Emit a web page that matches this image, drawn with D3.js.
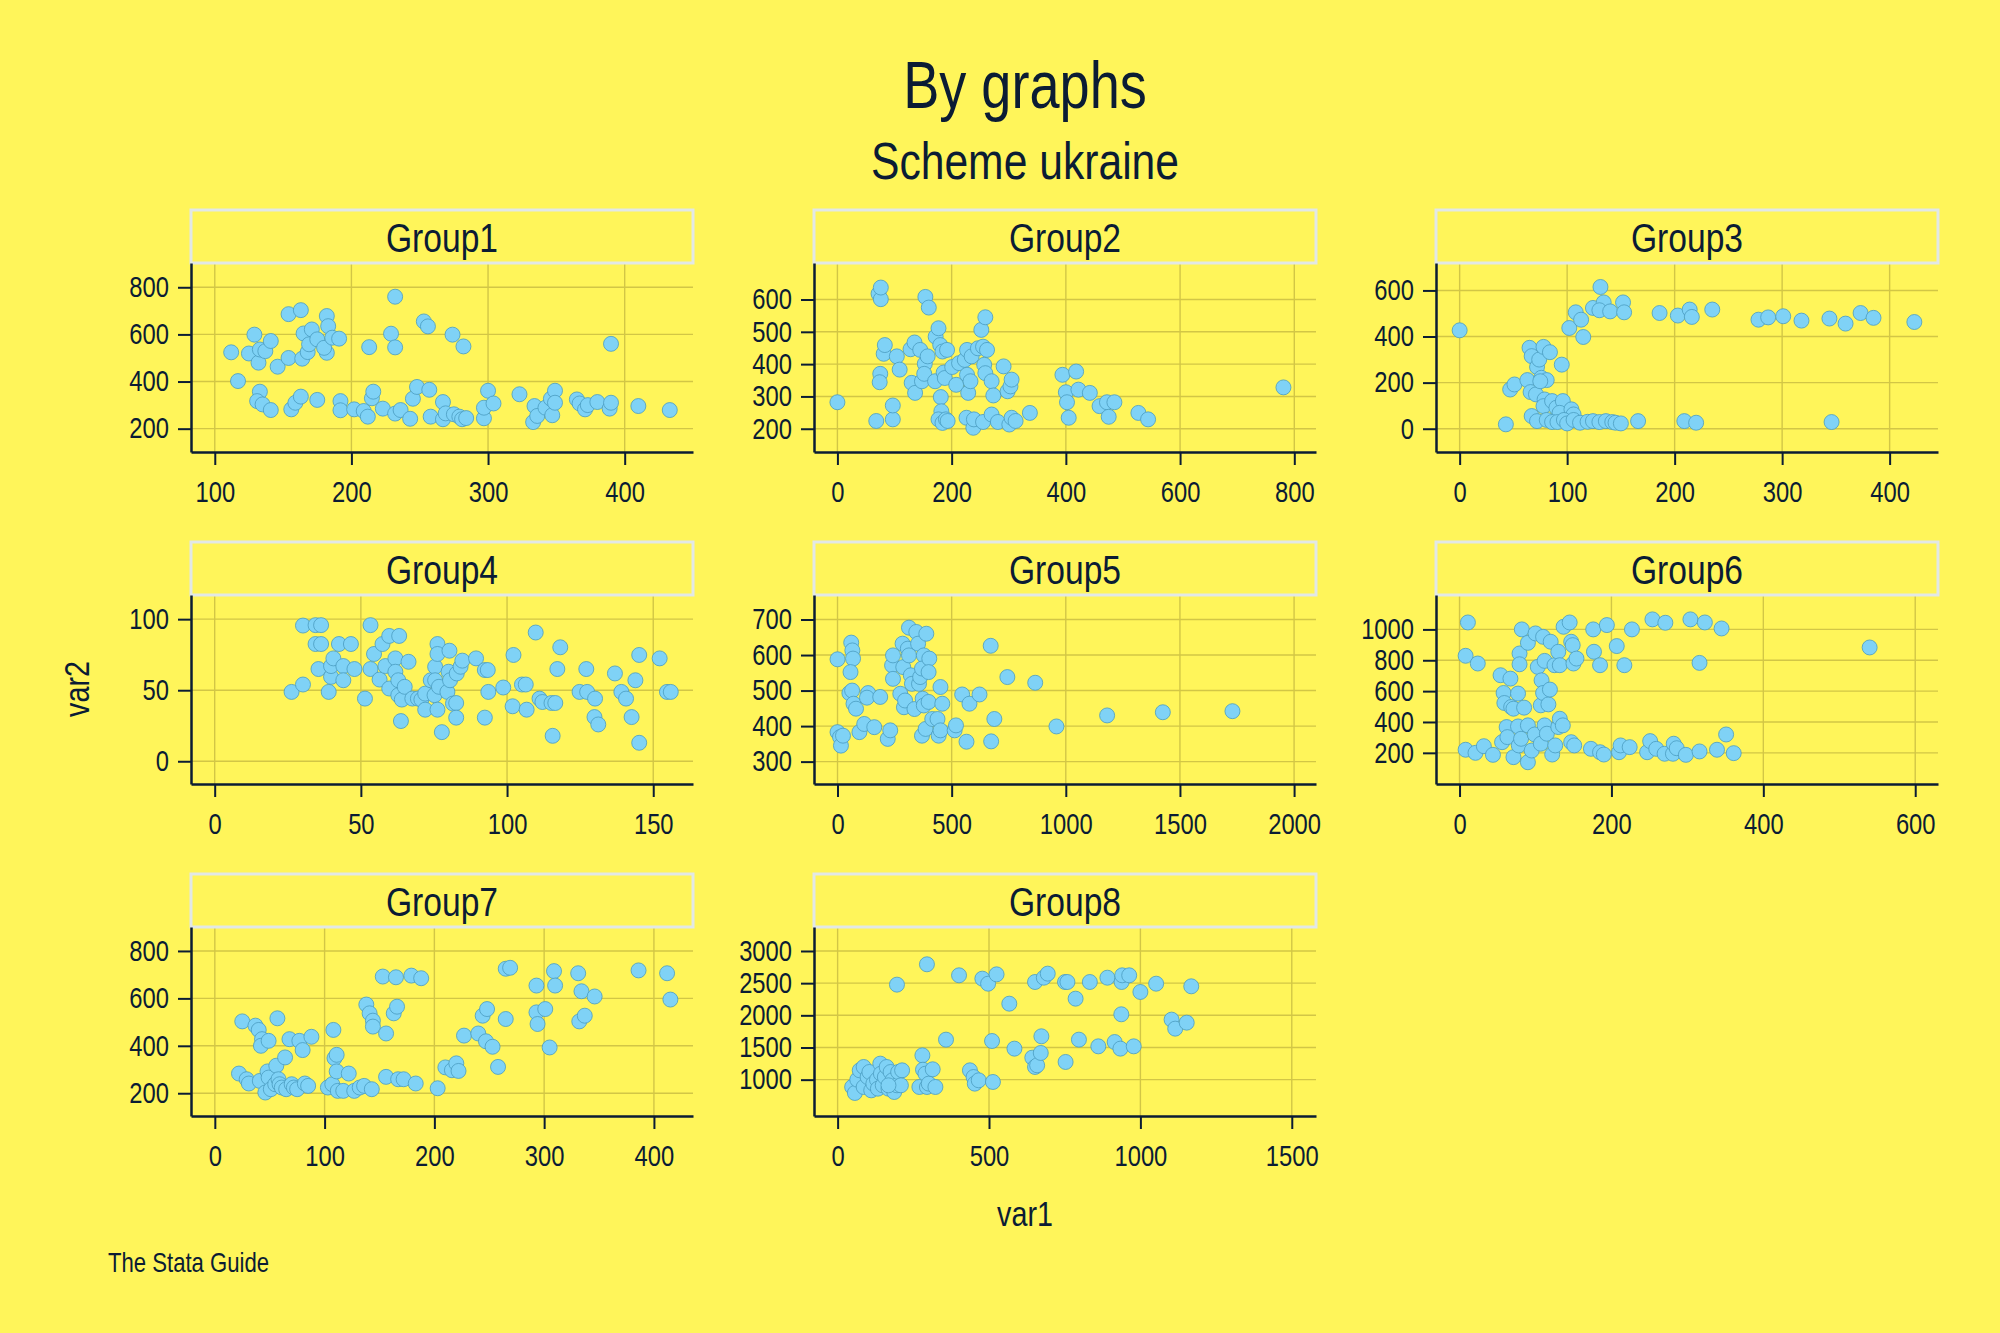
<!DOCTYPE html>
<html>
<head>
<meta charset="utf-8">
<script src="https://cdn.jsdelivr.net/npm/d3@7"></script>
<style>
    body { margin: 0; background: #fff55a; }
    svg text { font-family: "Liberation Sans", Arial, sans-serif; fill: #0b1c34; }
</style>
</head>
<body>
<svg id="chart" width="2000" height="1333"></svg>
<script>
var group_names = ["Group1", "Group2", "Group3", "Group4", "Group5", "Group6", "Group7", "Group8"];

var group1_points = [
    [112,524],[117,402],[125,519],[129,599],[132,480],[133,536],[137,529],[141,572],[146,463],[154,686],
    [154,500],[163,703],[164,497],[165,604],[168,525],[169,558],[171,621],[175,579],[182,678],[183,635],
    [182,522],[180,543],[186,586],[191,582],[213,546],[229,603],[232,760],[232,545],[253,655],[256,634],
    [274,599],[282,549],[390,560],
    [133,357],[131,317],[135,303],[141,279],[156,282],[159,310],[163,336],[175,322],[192,317],[192,278],
    [202,282],[209,275],[212,251],[215,329],[216,357],[223,285],[232,264],[236,279],[243,242],[245,327],
    [248,377],[257,365],[258,251],[267,313],[267,240],[269,265],[275,261],[279,251],[281,240],[284,245],
    [297,244],[297,289],[300,361],[304,307],[323,346],[333,228],[334,296],[336,254],[342,289],[346,327],
    [347,257],[349,361],[349,310],[365,324],[367,307],[371,282],[373,300],[380,313],[389,285],[390,310],
    [410,296],[433,279]
];

var group2_points = [
    [0,282],[68,224],[72,618],[76,601],[76,637],[75,370],[74,344],[81,432],[83,459],[97,229],
    [97,272],[104,424],[109,383],[128,446],[135,467],[130,342],[136,311],[145,444],[148,347],[153,401],
    [154,608],[158,424],[160,575],[152,370],[171,347],[172,485],[177,511],[180,459],[184,439],[192,444],
    [181,298],[182,254],[177,229],[184,218],[190,229],[193,224],[186,374],[188,357],[201,391],[208,336],
    [213,403],[223,413],[227,444],[227,367],[229,311],[233,347],[235,424],[226,234],[238,203],[239,229],
    [246,449],[252,506],[255,454],[259,545],[262,444],[257,398],[259,372],[255,221],[270,244],[270,347],
    [273,303],[281,221],[291,393],[298,316],[303,331],[305,352],[301,213],[305,234],[312,224],[337,249],
    [394,367],[400,313],[402,282],[405,234],[418,377],[422,321],[442,311],[459,270],[472,282],[475,237],
    [485,282],[527,249],[544,229],[781,328]
];

var group3_points = [
    [0,427],[43,19],[47,170],[51,192],[63,211],[65,351],[67,315],[66,159],[71,149],[72,268],
    [74,300],[78,355],[84,332],[95,278],[76,221],[81,211],[75,206],[79,127],[78,98],[86,120],
    [90,91],[96,120],[93,69],[104,84],[106,62],[67,55],[72,33],[81,38],[86,29],[91,29],
    [97,38],[100,23],[106,38],[112,26],[119,30],[124,33],[130,29],[136,33],[142,29],[145,26],
    [150,23],[166,33],[209,33],[220,26],[346,29],
    [102,437],[108,505],[113,473],[115,398],[124,524],[131,615],[134,548],[130,514],[140,509],[152,548],
    [153,505],[186,502],[203,491],[214,517],[216,485],[235,517],[278,473],[287,483],[301,488],[318,469],
    [344,478],[359,456],[373,502],[385,481],[423,463]
];

var group4_points = [
    [26.3,48.8],[30.2,54],[30.2,95.5],[34.5,95.8],[36.4,95.8],[34.5,82.5],[36.4,82.5],[35.5,64.9],[39,48.8],[39.8,59.4],
    [39.8,67],[40.6,72.4],[42.5,82.5],[44,67],[44,57],[46.6,82.5],[47.8,64.9],[51.4,44.1],[53.3,95.8],[53.3,64.9],
    [54.5,75.5],[56.4,57.5],[57.4,82.5],[58.4,67],[59.7,88.2],[59.7,51.2],[61.8,72.4],[61.8,63],[62.8,57],[63.1,88.2],
    [62.8,46.5],[64,43.4],[63.7,28.3],[65,52.4],[66.3,70],[67.6,44.1],[69.5,44.1],[70.7,43.4],[72,47.6],[72,36.3],
    [73.9,57],[75.2,46.5],[75.4,66.5],[76.2,82.5],[76.2,75.5],[75.4,57],[76.7,52.4],[76.2,36.3],[77.7,20.5],[79.6,48.8],
    [80.3,77.8],[80,63],[80.5,57],[81.5,40.6],[82.6,41],[82.6,30.7],[82.8,61.8],[84.1,66.5],[84.7,70.8],[89.4,72.4],
    [92.4,64.2],[93.4,64.2],[93.6,48.8],[92.4,30.7],[98.7,51.9],[101.9,38.7],[102.2,74.8],[105.1,54],[106.4,54],[106.7,36.3],
    [109.8,90.6],[111.1,44.1],[112.1,41.7],[115.2,41],[116.5,41],[115.6,17.9],[117.2,64.9],[118.2,80.2],[124.8,48.8],[127.4,48.8],
    [127.1,64.9],[130.1,44.1],[129.9,31.1],[131.2,25.9],[136.9,61.8],[139.1,48.8],[140.7,44.1],[142.6,31.1],[143.9,57],[145.2,74.8],
    [145.2,13],[152.2,72.4],[154.7,48.8],[156,48.8]
];

var group5_points = [
    [0,588],[0,383],[11,369],[15,345],[24,373],[60,635],[65,613],[68,590],[57,552],[52,493],
    [64,500],[70,463],[81,449],[96,383],[117,406],[134,493],[129,480],[161,397],[187,482],[220,364],
    [231,388],[239,571],[243,533],[243,599],[275,491],[285,632],[288,566],[291,453],[296,472],[308,618],
    [313,677],[313,599],[321,543],[326,519],[337,448],[345,665],[353,632],[357,519],[362,538],[370,373],
    [373,477],[378,599],[378,458],[370,562],[389,660],[386,392],[402,590],[399,552],[399,468],[415,420],
    [438,420],[443,373],[451,510],[451,388],[459,463],[513,388],[519,402],[546,489],[565,356],[578,463],
    [622,489],[671,626],[673,357],[687,420],[744,538],[866,522],[959,399],[1181,430],[1425,439],[1730,442]
];

var group6_points = [
    [11,1045],[8,829],[24,779],[8,220],[21,200],[32,243],[44,187],[54,703],[56,269],[58,588],
    [59,523],[62,367],[63,302],[67,681],[68,497],[71,486],[71,172],[77,584],[77,371],[78,248],
    [79,844],[79,774],[82,1000],[81,291],[85,493],[90,378],[90,913],[90,139],[95,215],[99,319],
    [100,974],[103,757],[107,259],[107,508],[108,670],[110,588],[110,952],[112,378],[115,324],[112,796],
    [117,514],[119,610],[120,920],[122,189],[126,248],[125,768],[130,855],[132,768],[130,367],[132,421],
    [136,378],[137,1017],[145,1045],[147,920],[149,898],[147,269],[151,248],[150,779],[154,811],[173,226],
    [176,1000],[177,855],[185,768],[185,204],[190,189],[194,1028],[207,892],[210,204],[212,248],[217,768],
    [224,237],[227,1000],[247,204],[251,276],[254,1065],[259,226],[271,1043],[270,194],[281,194],[282,259],
    [286,230],[298,187],[304,1065],[316,209],[316,783],[323,1045],[339,220],[345,1006],[351,319],[361,198],
    [540,883]
];

var group7_points = [
    [22,283],[25,503],[29,259],[31,241],[37,485],[40,467],[41,252],[43,428],[42,400],[46,203],
    [48,292],[49,421],[49,266],[51,217],[55,238],[56,316],[57,516],[58,259],[59,238],[64,351],
    [61,224],[65,217],[68,428],[70,238],[72,224],[75,217],[77,421],[80,382],[82,241],[85,231],
    [88,438],[103,224],[108,467],[107,238],[109,348],[111,362],[111,292],[112,210],[117,210],[122,283],
    [127,210],[132,224],[136,231],[143,217],[138,574],[141,537],[144,506],[144,481],[153,692],[156,452],
    [156,269],[165,689],[163,537],[166,565],[167,259],[172,259],[179,696],[188,685],[183,241],[203,221],
    [210,309],[216,297],[220,326],[222,294],[227,443],[240,452],[244,527],[248,555],[247,419],[253,396],
    [258,311],[265,725],[269,729],[265,513],[293,654],[293,541],[294,492],[301,555],[305,393],[309,715],
    [310,654],[331,706],[334,630],[332,503],[337,527],[346,608],[386,718],[412,706],[415,595]
];

var group8_points = [
    [48,886],[57,793],[65,1000],[73,1145],[86,1197],[86,886],[99,1041],[105,1119],[111,834],[118,938],
    [130,1000],[133,860],[141,1249],[143,1093],[149,912],[156,1041],[162,1197],[168,860],[175,1119],[181,990],
    [187,808],[196,912],[200,1119],[213,1145],[209,912],[168,912],[196,2477],[270,886],[280,1378],[282,1155],
    [290,1093],[295,886],[301,938],[295,2793],[314,1161],[323,886],[358,1622],[401,2622],[437,1145],[449,1041],
    [453,938],[466,990],[478,2570],[497,2492],[513,964],[510,1601],[525,2637],[567,2181],[584,1482],[643,1342],
    [652,1197],[652,2518],[659,1223],[671,1415],[673,1674],[681,2585],[694,2648],[751,2518],[753,1275],[759,2518],
    [786,2259],[797,1622],[833,2518],[861,1518],[891,2585],[915,1585],[934,1482],[937,2016],[938,2518],[940,2622],
    [963,2622],[978,1518],[1000,2363],[1052,2492],[1103,1933],[1115,1793],[1153,1886],[1168,2451]
];

var group_points = [group1_points, group2_points, group3_points, group4_points,
                    group5_points, group6_points, group7_points, group8_points];

var x_tick_values = [
    [100, 200, 300, 400],
    [0, 200, 400, 600, 800],
    [0, 100, 200, 300, 400],
    [0, 50, 100, 150],
    [0, 500, 1000, 1500, 2000],
    [0, 200, 400, 600],
    [0, 100, 200, 300, 400],
    [0, 500, 1000, 1500]
];

var y_tick_values = [
    [200, 400, 600, 800],
    [200, 300, 400, 500, 600],
    [0, 200, 400, 600],
    [0, 50, 100],
    [300, 400, 500, 600, 700],
    [200, 400, 600, 800, 1000],
    [200, 400, 600, 800],
    [1000, 1500, 2000, 2500, 3000]
];

// axis extents of each panel (what Stata padded round the ticks)
var x_extent = [[82.6, 450], [-41, 838], [-22, 445], [-8.1, 163.6], [-103, 2096], [-31, 630], [-21.7, 435.6], [-78, 1580]];
var y_extent = [[101, 903], [128, 713], [-101, 719], [-16, 117], [237, 769], [-2, 1223], [104, 901], [435, 3373]];

var col_left = [191, 814, 1436];
var row_header_top = [210, 542, 874];
var header_height = 53;
var panel_width = 502;
var plot_height = 189;

var text_color = "#0b1c34";
var grid_color = "#d2c646";
var narrow = 0.82;   // the original text is a condensed face

var svg = d3.select("#chart");

svg.append("rect").attr("width", 2000).attr("height", 1333).attr("fill", "#fff55a");

// squeeze text horizontally, keeping its anchor point where it was
function condense(sel) {
    sel.each(function () {
        var t = d3.select(this);
        var x = +t.attr("x") || 0;
        t.attr("x", x / narrow).attr("transform", "scale(" + narrow + ",1)");
    });
}

function add_label(x, y, size, label, anchor) {
    var t = svg.append("text")
        .attr("x", x).attr("y", y)
        .attr("text-anchor", anchor || "middle")
        .attr("dominant-baseline", "central")
        .style("font-size", size + "px")
        .text(label);
    condense(t);
    return t;
}

add_label(1025, 85, 66, "By graphs");
add_label(1025, 161, 52, "Scheme ukraine");

function draw_panel(idx) {
    var col = idx % 3;
    var row = Math.floor(idx / 3);
    var left = col_left[col];
    var top = row_header_top[row] + header_height;
    var bottom = top + plot_height;

    var g = svg.append("g");

    var x = d3.scaleLinear().domain(x_extent[idx]).range([left, left + panel_width]);
    var y = d3.scaleLinear().domain(y_extent[idx]).range([bottom, top]);

    // grid
    g.selectAll(".vgrid")
        .data(x_tick_values[idx]).enter()
        .append("line")
        .attr("x1", function (d) { return x(d); })
        .attr("x2", function (d) { return x(d); })
        .attr("y1", top).attr("y2", bottom)
        .attr("stroke", grid_color).attr("stroke-width", 1.4);

    g.selectAll(".hgrid")
        .data(y_tick_values[idx]).enter()
        .append("line")
        .attr("x1", left).attr("x2", left + panel_width)
        .attr("y1", function (d) { return y(d); })
        .attr("y2", function (d) { return y(d); })
        .attr("stroke", grid_color).attr("stroke-width", 1.4);

    // header box
    g.append("rect")
        .attr("x", left).attr("y", row_header_top[row])
        .attr("width", panel_width).attr("height", header_height)
        .attr("fill", "#fff55a")
        .attr("stroke", "#e2e8e6").attr("stroke-width", 3);

    var head = g.append("text")
        .attr("x", left + panel_width / 2)
        .attr("y", row_header_top[row] + header_height / 2 + 1)
        .attr("text-anchor", "middle").attr("dominant-baseline", "central")
        .style("font-size", "41px")
        .text(group_names[idx]);
    condense(head);

    // markers
    g.selectAll("circle")
        .data(group_points[idx]).enter()
        .append("circle")
        .attr("cx", function (d) { return x(d[0]); })
        .attr("cy", function (d) { return y(d[1]); })
        .attr("r", 7.5)
        .attr("fill", "#7fd2f6")
        .attr("stroke", "#4a9cc0")
        .attr("stroke-width", 0.8);

    var x_axis = d3.axisBottom(x).tickValues(x_tick_values[idx]).tickFormat(d3.format("d"))
        .tickSize(13).tickSizeOuter(0).tickPadding(16);
    var y_axis = d3.axisLeft(y).tickValues(y_tick_values[idx]).tickFormat(d3.format("d"))
        .tickSize(13).tickSizeOuter(0).tickPadding(9);

    var xg = g.append("g").attr("transform", "translate(0," + bottom + ")").call(x_axis);
    var yg = g.append("g").attr("transform", "translate(" + left + ",0)").call(y_axis);

    [xg, yg].forEach(function (a) {
        a.select(".domain").attr("stroke", text_color).attr("stroke-width", 2.5);
        a.selectAll(".tick line").attr("stroke", text_color).attr("stroke-width", 2);
        a.selectAll(".tick text")
            .attr("fill", text_color)
            .style("font-size", "29px")
            .style("font-family", "\"Liberation Sans\", Arial, sans-serif")
            .call(condense);
    });
}

for (var i = 0; i < group_names.length; i++) {
    draw_panel(i);
}

svg.append("text")
    .attr("transform", "translate(77,689) rotate(-90) scale(" + narrow + ",1)")
    .attr("text-anchor", "middle").attr("dominant-baseline", "central")
    .style("font-size", "35px")
    .text("var2");

add_label(1025, 1214, 35, "var1");
add_label(108, 1263, 27, "The Stata Guide", "start");
</script>
</body>
</html>
